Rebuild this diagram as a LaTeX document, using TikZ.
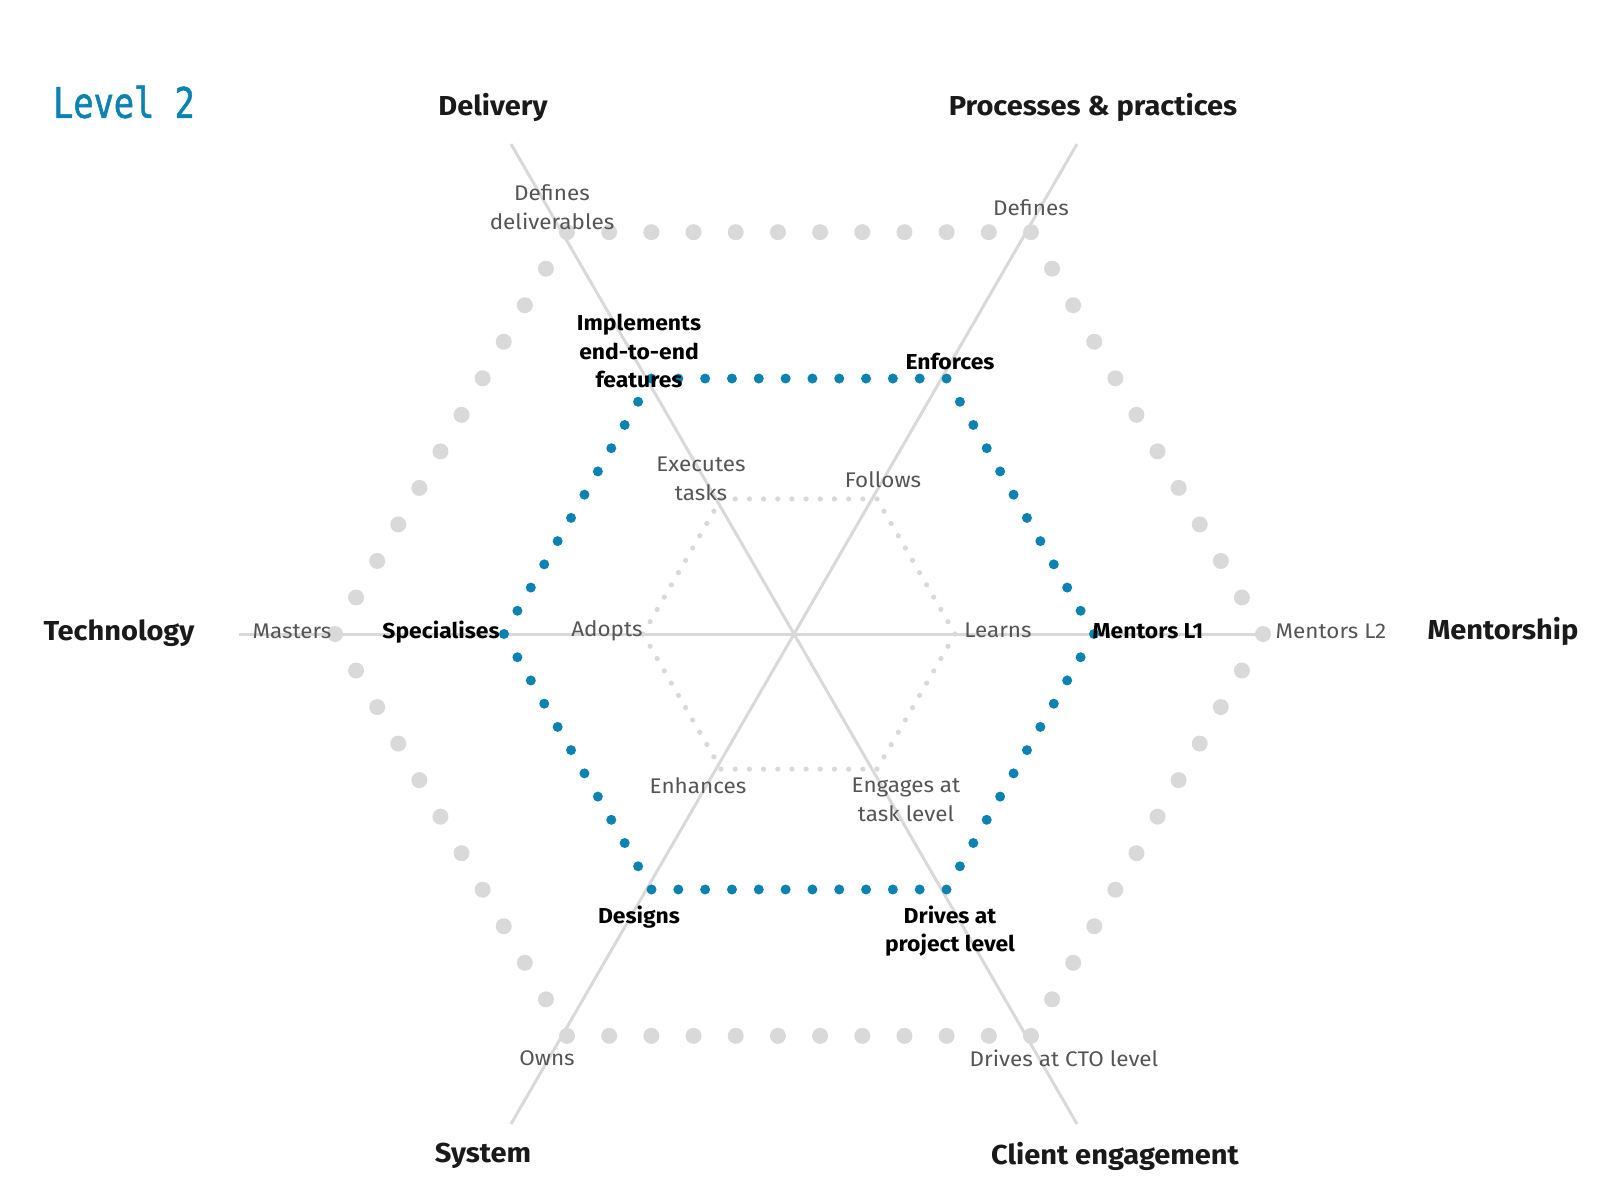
\documentclass[tikz,border=0pt]{standalone}
\usepackage{fontspec}
\setmainfont{Fira Sans}[FakeStretch=1.06]
\newfontfamily\levelfont[FakeStretch=0.8,FakeBold=1.3]{DejaVu Sans Mono}
\usepackage{tikz}
\usetikzlibrary{positioning}
\definecolor{lvlblue}{RGB}{10,130,178}
\definecolor{dotgray}{RGB}{217,217,217}
\definecolor{txtgray}{RGB}{85,85,85}
\definecolor{axisblack}{RGB}{26,26,26}
\tikzset{
  axisline/.style={dotgray, line width=3pt},
  axislabel/.style={font=\fontsize{27.4}{32}\selectfont\bfseries, text=axisblack, inner sep=0pt},
  graylabel/.style={font=\fontsize{21.2}{28.6}\selectfont, text=txtgray, align=center, inner sep=0pt},
  levellabel/.style={font=\fontsize{21.6}{28.6}\selectfont\bfseries, text=black, align=center, inner sep=0pt},
}

\begin{document}
\begin{tikzpicture}[x=1pt,y=-1pt]
  \useasboundingbox (0,0) rectangle (1600,1200);

  % Axes
  \coordinate (ctr) at (794,634);
  \draw[axisline] (239,634) -- (1264,634);
  \draw[axisline] (511,144) -- (1077,1124);
  \draw[axisline] (1077,144) -- (511,1124);

  % Dotted hexagons: outer, current level, inner
  \foreach \rad/\dotr/\col in {464/8/dotgray, 295/5/lvlblue, 156/2.6/dotgray} {
    \foreach \k in {0,...,5} {
      \foreach \j in {0,...,10} {
        \fill[\col] ({799+\rad*((1-\j/11)*cos(60*\k)+\j/11*cos(60*\k+60))},
                     {634+\rad*((1-\j/11)*sin(60*\k)+\j/11*sin(60*\k+60))}) circle (\dotr pt);
      }
    }
  }

  % Title
  \node[font=\levelfont\fontsize{42}{48}\selectfont, text=lvlblue, anchor=west, inner sep=0pt] (title) at (53,102) {Level 2};

  % Axis names
  \node[axislabel] (delivery) at (493,107) {Delivery};
  \node[axislabel] (processes) at (1093,107) {Processes \& practices};
  \node[axislabel] (technology) at (119,633) {Technology};
  \node[axislabel] (mentorship) at (1503,631) {Mentorship};
  \node[axislabel] (system) at (483,1156) {System};
  \node[axislabel] (client) at (1115,1156) {Client engagement};

  % Outer ring
  \node[graylabel] (deliverables) at (552,207) {Defines\\deliverables};
  \node[graylabel] (defines) at (1031,208) {Defines};
  \node[graylabel] (masters) at (292,631) {Masters};
  \node[graylabel] (mentorsLtwo) at (1331,631) {Mentors L2};
  \node[graylabel] (owns) at (547,1058) {Owns};
  \node[graylabel] (ctolevel) at (1064,1058) {Drives at CTO level};

  % Current level
  \node[levellabel] (implements) at (639,351) {Implements\\end-to-end\\features};
  \node[levellabel] (enforces) at (950,361) {Enforces};
  \node[levellabel] (specialises) at (441,632) {Specialises};
  \node[levellabel] (mentorsLone) at (1148,631) {Mentors L1};
  \node[levellabel] (designs) at (639,917) {Designs};
  \node[levellabel] (projectlevel) at (950,931) {Drives at\\project level};

  % Inner ring
  \node[graylabel] (executes) at (701,479) {Executes\\tasks};
  \node[graylabel] (follows) at (883,480) {Follows};
  \node[graylabel] (adopts) at (607,631) {Adopts};
  \node[graylabel] (learns) at (998,630) {Learns};
  \node[graylabel] (enhances) at (698,786) {Enhances};
  \node[graylabel] (tasklevel) at (906,800) {Engages at\\task level};
\end{tikzpicture}
\end{document}
